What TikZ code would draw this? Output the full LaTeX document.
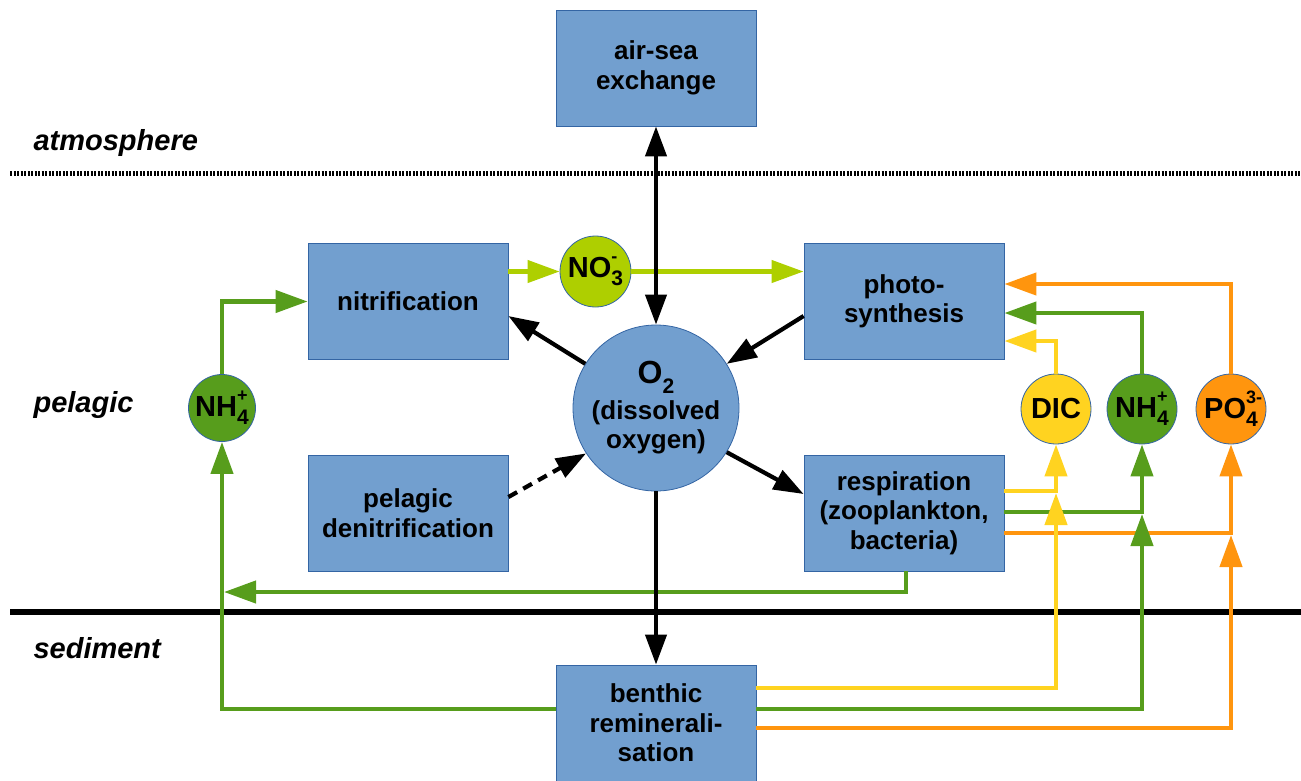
\documentclass[tikz,border=0pt]{standalone}
\usepackage{fontspec}
\setmainfont{Liberation Sans}
\usetikzlibrary{arrows.meta,calc}
\definecolor{boxblue}{HTML}{729FCF}
\definecolor{boxedge}{HTML}{3465A4}
\definecolor{cgreen}{HTML}{579D1C}
\definecolor{cyellow}{HTML}{FFD320}
\definecolor{corange}{HTML}{FF950E}
\definecolor{clime}{HTML}{AECF00}
\newcommand{\ionlbl}[3]{#1\rlap{\raisebox{0.5em}{\fontsize{18}{18}\selectfont #3}}\raisebox{-0.3em}{\fontsize{21}{21}\selectfont #2}}
\tikzset{
  proc/.style={rectangle, draw=boxedge, line width=0.8pt, fill=boxblue, minimum width=200pt, minimum height=116pt, align=center, font=\fontsize{26}{29.5}\selectfont\bfseries, inner sep=0pt},
  ionc/.style={circle, draw=boxedge, line width=0.8pt, minimum size=70pt, inner sep=0pt, font=\fontsize{29}{30}\selectfont\bfseries},
  zone/.style={anchor=base west, font=\fontsize{29}{30}\selectfont\bfseries\itshape},
  blk/.style={line width=4.2pt, -{Triangle[length=30pt,width=21pt]}},
  flow/.style={line width=4.3pt, -{Triangle[length=32pt,width=22pt]}}
}
\begin{document}
\begin{tikzpicture}[x=1pt,y=-1pt]
\useasboundingbox (0,0) rectangle (1301,780);
\clip (0,0) rectangle (1301,780);
% layer lines
\draw[line width=5pt, dash pattern=on 2pt off 1.5pt] (10,173) -- (1301,173);
\draw[line width=6pt] (10,612) -- (1301,612);
% zone labels
\node[zone] (atm) at (30,150) {atmosphere};
\node[zone] (pel) at (30,412) {pelagic};
\node[zone] (sed) at (30,658) {sediment};
% process boxes
\node[proc] (air) at (656,68) {air-sea\\exchange};
\node[proc] (nitr) at (408,301.5) {nitrification};
\node[proc] (photo) at (904,301.5) {photo-\\synthesis};
\node[proc] (denit) at (408,513) {pelagic\\denitrification};
\node[proc] (resp) at (904,513) {respiration\\(zooplankton,\\bacteria)};
\node[proc] (benth) at (656,723) {benthic\\reminerali-\\sation};
% circles
\node[ionc, fill=boxblue, minimum size=166pt, font=\fontsize{26}{29}\selectfont\bfseries, align=center] (o2) at (656,408) {{\fontsize{32}{32}\selectfont O\raisebox{-0.3em}{\fontsize{21}{21}\selectfont 2}}\\[7pt](dissolved\\oxygen)};
\node[ionc, fill=clime, minimum size=71pt] (no3) at (595.5,271.5) {\ionlbl{NO}{3}{-}};
\node[ionc, fill=cgreen, minimum size=67pt] (nh4l) at (222,408) {\ionlbl{NH}{4}{+}};
\node[ionc, fill=cyellow] (dic) at (1056,409) {DIC};
\node[ionc, fill=cgreen] (nh4r) at (1142,409) {\ionlbl{NH}{4}{+}};
\node[ionc, fill=corange] (po4) at (1231,409) {\ionlbl{PO}{4}{3-}};
% free ends
\coordinate (dicj) at (1056,493);
\coordinate (nhj) at (1142,514);
\coordinate (poj) at (1231,535);
\coordinate (leftj) at (224,592);
% nitrogen (left)
\draw[flow, cgreen] (nh4l.north) |- (nitr.west);
\draw[flow, clime] (nitr.east |- no3.west) -- (no3.west);
\draw[flow, clime] (no3.east) -- (photo.west |- no3.east);
\draw[flow, cgreen] ([xshift=2pt]resp.south) |- (leftj);
\draw[flow, cgreen] ([yshift=14pt]benth.west) -| (nh4l.south);
% nutrients to photosynthesis
\draw[flow, cyellow] (dic.north) |- ([yshift=-39.5pt]photo.east);
\draw[flow, cgreen] (nh4r.north) |- ([yshift=-11.5pt]photo.east);
\draw[flow, corange] (po4.north) |- ([yshift=17.5pt]photo.east);
% respiration products
\draw[flow, cyellow] ([yshift=22pt]resp.east) -| (dic.south);
\draw[flow, cgreen] ([yshift=1pt]resp.east) -| (nh4r.south);
\draw[flow, corange] ([yshift=-20pt]resp.east) -| (po4.south);
% benthic products
\draw[flow, cyellow] ([yshift=35pt]benth.east) -| (dicj);
\draw[flow, cgreen] ([yshift=14pt]benth.east) -| (nhj);
\draw[flow, corange] ([yshift=-5pt]benth.east) -| (poj);
% oxygen arrows
\draw[blk, {Triangle[length=30pt,width=21pt]}-{Triangle[length=30pt,width=21pt]}] (air.south) -- (o2.north);
\draw[blk] (o2.148) -- ([yshift=-14.5pt]nitr.east);
\draw[blk] ([yshift=-14.5pt]photo.west) -- (o2.32);
\draw[blk] (o2.-32) -- ([yshift=19pt]resp.west);
\draw[blk, dash pattern=on 10pt off 7pt] ([yshift=16pt]denit.east) -- (o2.213);
\draw[blk] (o2.south) -- (benth.north);
\end{tikzpicture}
\end{document}
